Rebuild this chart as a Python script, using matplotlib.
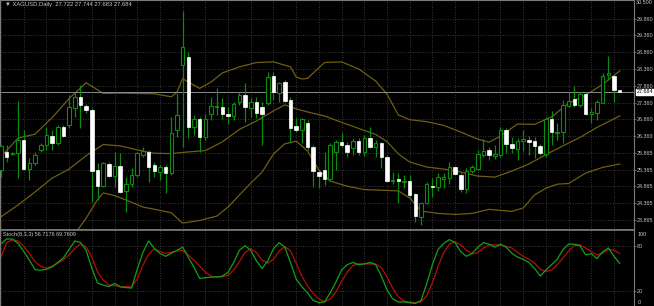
import numpy as np
import matplotlib.pyplot as plt

# daily XAGUSD candles (oldest first)
opens = [25.35, 25.88, 25.83, 25.85, 26.24, 25.37, 25.55, 25.95, 26.10, 26.36,
         26.15, 26.64, 26.69, 27.19, 27.53, 27.26, 27.14, 25.35, 24.87, 25.53,
         25.17, 25.47, 24.73, 24.93, 25.20, 25.80, 25.90, 25.50, 25.30, 25.45,
         25.25, 26.54, 28.48, 28.70, 26.64, 26.86, 26.34, 27.01, 27.22, 27.24,
         27.01, 26.96, 27.38, 27.58, 27.19, 27.38, 27.24, 27.35, 28.15, 27.63,
         27.96, 27.44, 26.67, 26.54, 26.74, 26.05, 25.30, 25.35, 25.08, 25.90,
         26.19, 26.10, 26.00, 26.22, 25.90, 26.29, 26.03, 26.15, 25.75, 25.02,
         25.08, 24.99, 25.03, 24.64, 23.96, 24.36, 24.89, 24.84, 25.07, 25.10,
         25.43, 25.20, 24.78, 25.33, 25.37, 25.81, 25.95, 25.78, 25.80, 26.54,
         26.13, 25.97, 26.21, 26.24, 26.22, 26.07, 25.84, 26.88, 26.44, 26.49,
         27.26, 27.46, 27.29, 27.61, 27.02, 27.06, 27.35, 28.18, 28.15, 27.722]
highs = [26.10, 26.10, 25.90, 27.40, 26.54, 25.71, 25.90, 26.16, 26.64, 26.54,
         26.69, 26.69, 27.58, 27.68, 27.88, 27.32, 27.20, 25.55, 25.59, 25.59,
         25.90, 25.86, 25.15, 25.41, 25.90, 26.05, 25.95, 25.60, 25.50, 25.50,
         26.94, 27.64, 30.08, 28.87, 26.99, 26.94, 27.02, 27.53, 27.78, 27.49,
         27.23, 27.38, 27.68, 27.93, 27.49, 27.53, 27.38, 28.27, 28.27, 27.98,
         28.03, 27.53, 26.89, 26.89, 26.84, 26.10, 25.35, 25.90, 26.15, 26.24,
         26.44, 26.19, 26.29, 26.29, 26.39, 26.64, 26.24, 26.19, 25.80, 25.30,
         25.25, 25.20, 25.20, 24.66, 24.41, 24.99, 25.10, 25.25, 25.25, 25.60,
         25.47, 25.25, 25.40, 25.50, 25.95, 26.27, 26.05, 26.10, 26.64, 26.59,
         26.34, 26.29, 26.54, 26.36, 26.34, 26.13, 26.94, 27.10, 26.74, 27.44,
         27.68, 27.85, 27.67, 27.68, 27.19, 27.44, 28.25, 28.74, 28.18, 27.744]
lows = [25.14, 25.60, 25.80, 25.10, 25.34, 25.05, 25.50, 25.89, 25.95, 25.95,
        26.10, 26.33, 26.59, 26.94, 26.59, 27.05, 24.40, 24.46, 24.84, 25.14,
        24.85, 24.67, 24.10, 24.85, 25.15, 25.75, 25.00, 25.15, 25.05, 24.66,
        25.20, 26.34, 26.05, 26.29, 26.39, 25.90, 26.24, 26.84, 26.99, 26.87,
        26.72, 26.84, 27.29, 26.79, 26.93, 26.89, 26.10, 27.29, 27.44, 27.38,
        27.37, 26.15, 26.49, 26.15, 25.95, 24.85, 24.81, 24.90, 25.05, 25.35,
        26.05, 25.75, 25.80, 25.80, 25.77, 26.00, 25.75, 25.40, 24.99, 24.93,
        24.36, 24.81, 24.56, 23.81, 23.71, 24.34, 24.56, 24.74, 24.81, 24.93,
        25.20, 24.71, 24.66, 25.25, 25.35, 25.75, 25.65, 25.68, 25.75, 25.85,
        25.85, 25.65, 25.92, 25.80, 25.70, 25.80, 25.73, 26.10, 26.24, 26.15,
        27.24, 27.24, 27.24, 26.99, 26.74, 26.84, 27.34, 28.03, 27.38, 27.683]
closes = [26.07, 25.75, 25.85, 26.24, 25.37, 25.55, 25.80, 26.10, 26.39, 26.16,
          26.64, 26.36, 27.22, 27.53, 27.29, 27.14, 25.33, 24.87, 25.55, 25.17,
          25.47, 24.69, 24.93, 25.20, 25.85, 25.92, 25.45, 25.32, 25.45, 25.25,
          26.44, 26.99, 29.02, 26.64, 26.86, 26.34, 26.86, 27.26, 27.26, 27.01,
          26.96, 27.31, 27.58, 27.22, 27.38, 27.04, 27.02, 28.13, 27.66, 27.93,
          27.41, 26.59, 26.54, 26.86, 26.05, 25.33, 25.18, 25.08, 26.10, 26.19,
          26.10, 25.88, 26.22, 25.90, 26.29, 26.05, 26.17, 25.73, 25.03, 25.05,
          25.03, 25.03, 24.61, 23.98, 24.38, 24.93, 24.85, 25.13, 25.15, 25.43,
          25.23, 24.78, 25.32, 25.43, 25.82, 25.93, 25.80, 25.82, 26.54, 26.13,
          26.02, 26.22, 26.26, 26.19, 26.07, 25.85, 26.88, 26.48, 26.49, 27.29,
          27.41, 27.29, 27.61, 27.02, 27.09, 27.38, 28.15, 28.25, 27.73, 27.684]

# Bollinger bands (bar index, level)
bb_up_idx = [0, 3, 6, 9, 12, 15, 18, 21, 24, 27, 30, 31, 32, 33, 35, 37, 39, 42, 45, 48,
             51, 52, 53, 54, 57, 60, 63, 66, 68, 70, 72, 75, 78, 81, 84, 86, 88, 91, 94, 97,
             100, 103, 106, 109]
bb_up = [25.75, 26.30, 26.42, 26.91, 27.48, 27.95, 27.63, 27.64, 27.63, 27.62, 27.53, 27.67,
         28.07, 27.97, 27.78, 27.97, 28.24, 28.42, 28.55, 28.57, 28.42, 28.12, 28.06, 28.08,
         28.55, 28.57, 28.36, 28.00, 27.61, 26.99, 26.85, 26.79, 26.68, 26.48, 26.27, 26.18,
         26.36, 26.72, 26.71, 26.93, 27.34, 27.58, 27.90, 28.30]
bb_mid_idx = [0, 3, 6, 9, 12, 15, 18, 21, 24, 27, 30, 33, 36, 39, 42, 45, 48, 50, 52, 54,
              57, 60, 63, 66, 68, 70, 72, 75, 78, 81, 84, 87, 90, 93, 96, 99, 102, 105, 109]
bb_mid = [23.96, 24.31, 24.70, 25.11, 25.38, 25.78, 26.11, 26.07, 25.95, 25.85, 25.84,
          25.89, 25.93, 26.19, 26.56, 26.81, 27.11, 27.29, 27.17, 27.08, 26.96, 26.77,
          26.59, 26.41, 26.20, 25.83, 25.59, 25.44, 25.38, 25.29, 25.17, 25.14, 25.32,
          25.53, 25.81, 26.07, 26.32, 26.62, 26.96]
bb_low_idx = [13, 15, 17, 18, 20, 22, 25, 28, 30, 32, 35, 38, 40, 42, 44, 46, 48, 50, 52, 53,
              54, 56, 58, 61, 64, 67, 70, 72, 74, 77, 80, 83, 86, 90, 92, 94, 96, 98, 100, 103,
              106, 109]
bb_low = [23.45, 23.92, 24.47, 24.67, 24.59, 24.46, 24.25, 24.15, 24.08, 23.77, 23.85,
          23.98, 24.25, 24.61, 24.96, 25.29, 25.83, 26.13, 26.21, 26.07, 25.92, 25.35,
          25.02, 24.87, 24.77, 24.75, 24.73, 24.52, 24.13, 24.06, 24.03, 24.06, 24.18,
          24.12, 24.22, 24.61, 24.81, 24.93, 24.95, 25.26, 25.43, 25.53]

# Stochastic(8,3,3): main and signal
stoch_k = [82.5, 88.8, 88.8, 82.9, 72.5, 60.8, 48.4, 47.7, 49, 52,
           58.1, 64, 75.1, 86.2, 84.2, 73.8, 50.3, 30.8, 28.2, 26.2,
           30.4, 25.9, 24.9, 24.3, 49, 71.2, 86.2, 76.4, 69.9, 66,
           69.9, 73.8, 78.1, 64.7, 51.6, 36.9, 37.9, 38.6, 39, 40,
           45, 58, 74, 80, 74, 60, 50, 60, 76, 84,
           78, 58, 36, 26, 18, 8, 5, 6, 18, 32,
           48, 55, 58, 55, 56, 58, 55, 40, 22, 10,
           6, 6, 5, 4, 8, 30, 55, 75, 83, 88,
           84, 72, 66, 70, 78, 84, 82, 78, 82, 78,
           70, 65, 62, 58, 50, 40, 48, 55, 62, 75,
           82, 82, 80, 68, 69.5, 63, 72, 77, 66, 56.7176]
stoch_d = [65.1, 84.2, 87.5, 86.2, 79, 69.9, 58.8, 52.9, 50.3, 52.9,
           56.8, 61.4, 67.9, 76.4, 82.3, 78.4, 64.7, 45.8, 34.7, 28.2,
           27.5, 25.9, 25.9, 25.9, 36, 54.2, 68.6, 76, 72.5, 69.9,
           71.2, 73.1, 73.8, 67.9, 60.8, 52.9, 45.1, 39.9, 38.6, 39,
           41, 48, 59, 71, 76, 71, 61, 57, 62, 73,
           79, 73, 57, 40, 27, 17, 10, 6, 10, 19,
           33, 45, 54, 56, 56, 56, 56, 51, 39, 24,
           13, 7, 6, 5, 6, 14, 31, 53, 71, 82,
           85, 81, 74, 69, 71, 77, 81, 81, 81, 79,
           77, 71, 66, 62, 57, 49, 46, 48, 55, 64,
           73, 80, 81, 77, 72, 68, 70, 75, 74, 69.7609]

price_ticks = [23.865, 24.365, 24.865, 25.365, 25.865, 26.360, 26.860,
               27.360, 27.860, 28.360, 28.860, 29.360, 29.860]
price_labels = ['23.865', '24.365', '24.865', '25.365', '25.865', '26.360', '26.860',
                '27.360', '27.860', '28.360', '28.860', '29.360', '29.860']
top_label = '30.500'
last_price = 27.684
title = 'XAGUSD,Daily  27.722 27.744 27.683 27.684'
stoch_title = 'Stoch(8,3,3) 56.7176 69.7609'

bull_col = '#0c8c0c'
band_col = '#6e5e12'
grid_col = '#4a4a4a'
txt_col = '#c8c8c8'
frame_col = '#7a7a7a'
fs = 3.9

plt.rcParams['font.family'] = ['Liberation Sans', 'DejaVu Sans']

fig = plt.figure(figsize=(6.54, 3.06), dpi=100, facecolor='black')
ax = fig.add_axes([0, 0.2500, 0.9694, 0.7500], facecolor='black')
ax2 = fig.add_axes([0, -0.0016, 0.9694, 0.2484], facecolor='black')

x = np.arange(len(opens))
o = np.array(opens); h = np.array(highs); l = np.array(lows); c = np.array(closes)
up = c >= o

# grid
for gx in range(0, 112, 4):
    for a in (ax, ax2):
        a.axvline(gx, color=grid_col, lw=0.6, ls=(0, (1, 2)), zorder=0)
for p in price_ticks:
    ax.axhline(p, color=grid_col, lw=0.6, ls=(0, (1, 2)), zorder=0)

# candles
ax.vlines(x, l, h, color=bull_col, lw=0.9, zorder=2)
bot = np.minimum(o, c)
hgt = np.maximum(np.abs(c - o), 0.012)
ax.bar(x[up], hgt[up], bottom=bot[up], width=0.62, facecolor='black',
       edgecolor=bull_col, lw=0.8, zorder=3)
ax.bar(x[~up], hgt[~up], bottom=bot[~up], width=0.62, facecolor='white',
       edgecolor='white', lw=0.5, zorder=3)

# bollinger bands
ax.plot(bb_up_idx, bb_up, color=band_col, lw=0.9, zorder=1)
ax.plot(bb_mid_idx, bb_mid, color=band_col, lw=0.9, zorder=1)
ax.plot(bb_low_idx, bb_low, color=band_col, lw=0.9, zorder=1)

# bid line
ax.axhline(last_price, color='#8c8c8c', lw=0.7, zorder=1)

ax.set_xlim(-0.18, 111.52)
ax.set_ylim(23.581, 30.411)
ax.yaxis.tick_right()
ax.set_yticks(price_ticks)
ax.set_yticklabels(price_labels)
ax.tick_params(axis='y', colors=frame_col, labelcolor=txt_col, labelsize=fs,
               length=1.5, width=0.5, pad=0.8)
ax.set_xticks([])
ax.text(1.003, 0.998, top_label, transform=ax.transAxes, ha='left', va='top',
        fontsize=fs, color=txt_col)
ax.text(1.004, last_price, '27.684', transform=ax.get_yaxis_transform(), ha='left',
        va='center', fontsize=fs, color='black',
        bbox=dict(boxstyle='square,pad=0.1', facecolor='white', edgecolor='white'))
ax.text(0.008, 0.99, '\u25bc ' + title, transform=ax.transAxes, ha='left', va='top',
        fontsize=4.2, color=txt_col)

# stochastic panel
ax2.plot(x, stoch_d, color='#b40e0e', lw=0.9)
ax2.plot(x, stoch_k, color='#14a014', lw=0.9)
for lv in (20, 80):
    ax2.axhline(lv, color=grid_col, lw=0.6, ls=(0, (1, 2)), zorder=0)
ax2.set_xlim(-0.18, 111.52)
ax2.set_ylim(0, 100)
ax2.yaxis.tick_right()
ax2.set_yticks([20, 80])
ax2.set_yticklabels(['20', '80'])
ax2.tick_params(axis='y', colors=frame_col, labelcolor=txt_col, labelsize=fs,
                length=1.5, width=0.5, pad=0.8)
ax2.set_xticks([])
ax2.text(1.006, 0.975, '100', transform=ax2.transAxes, ha='left', va='top',
         fontsize=fs, color=txt_col)
ax2.text(1.006, 0.025, '0', transform=ax2.transAxes, ha='left', va='bottom',
         fontsize=fs, color=txt_col)
ax2.text(0.005, 0.975, stoch_title, transform=ax2.transAxes, ha='left', va='top',
         fontsize=4.0, color=txt_col)

for a in (ax, ax2):
    for s in a.spines.values():
        s.set_color(frame_col)
        s.set_linewidth(0.8)
ax.spines['bottom'].set_linewidth(1.2)
ax2.spines['top'].set_linewidth(1.2)

fig.savefig('out.png', dpi=100, facecolor='black')
